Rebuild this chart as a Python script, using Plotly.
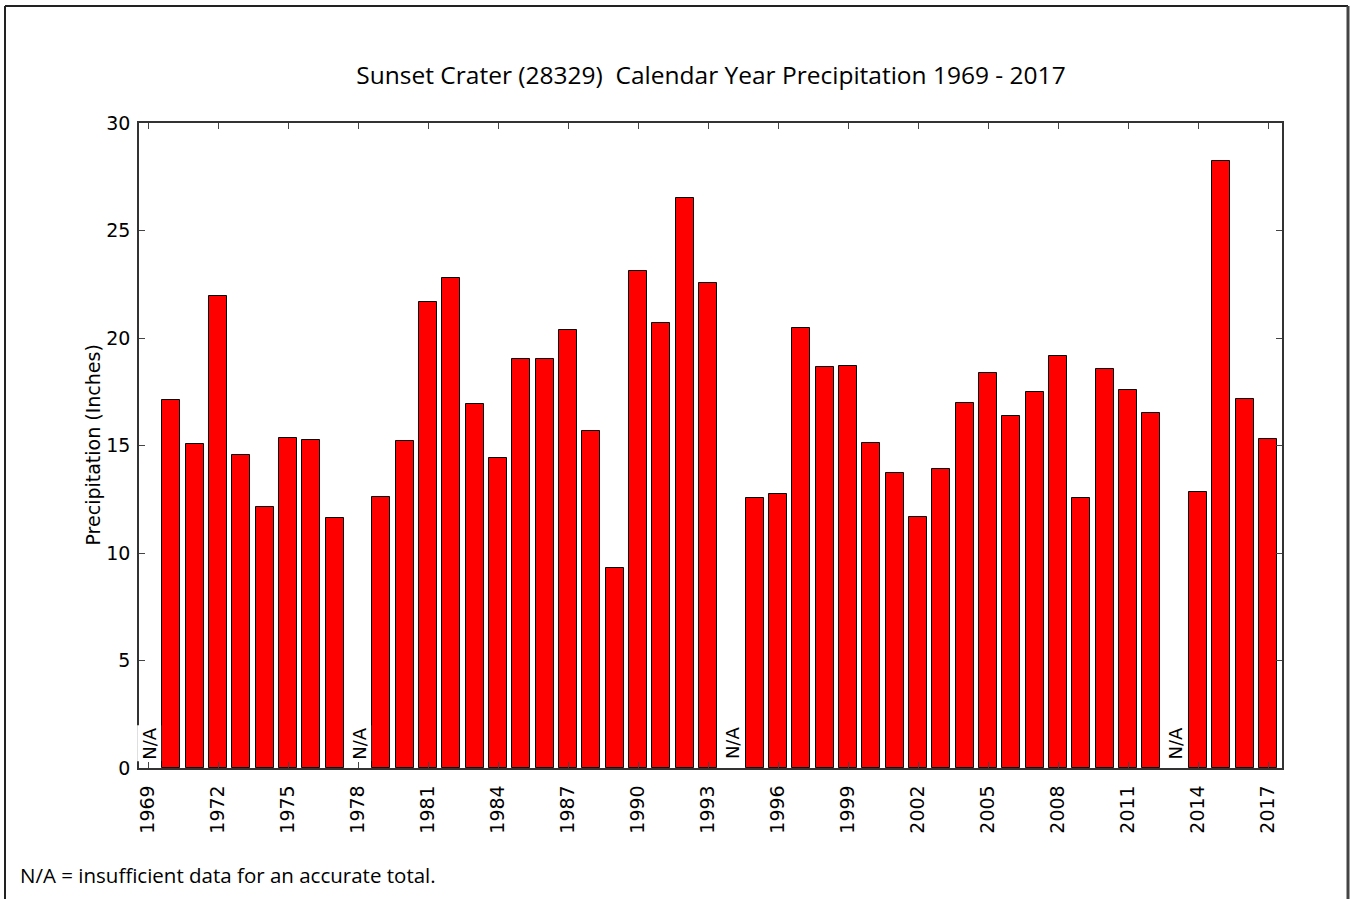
import plotly.graph_objects as go

years = list(range(1969, 2018))
precip = [None, 17.11, 15.07, 21.95, 14.56, 12.15, 15.35, 15.26, 11.63, None,
          12.61, 15.21, 21.67, 22.79, 16.93, 14.42, 19.02, 19.02, 20.37, 15.67,
          9.31, 23.11, 20.69, 26.50, 22.58, None, 12.56, 12.75, 20.46, 18.65,
          18.69, 15.12, 13.72, 11.68, 13.91, 16.98, 18.37, 16.37, 17.49, 19.16,
          12.56, 18.56, 17.58, 16.51, None, 12.84, 28.22, 17.16, 15.30]
na_years = [y for y, v in zip(years, precip) if v is None]
x_ticks = years[::3]
y_ticks = [0, 5, 10, 15, 20, 25, 30]

title = "Sunset Crater (28329)  Calendar Year Precipitation 1969 - 2017"
ylabel = "Precipitation (Inches)"
footnote = "N/A = insufficient data for an accurate total."

L, T, PW, PH = 139, 123, 1143, 645
W, H = 1351, 899

fig = go.Figure()
fig.add_trace(go.Bar(
    x=years, y=precip, width=0.77,
    marker=dict(color="#ff0000", line=dict(color="black", width=1)),
    showlegend=False,
))

for yr in na_years:
    fig.add_annotation(
        x=yr + 0.03, y=0.3, xref="x", yref="y", text="N/A", textangle=-90,
        showarrow=False, xanchor="center", yanchor="bottom",
        font=dict(family="DejaVu Sans", size=18, color="black"),
        bgcolor="white", borderpad=1,
    )

fig.add_annotation(
    x=(92 - L) / PW, y=0.5, xref="paper", yref="paper", text=ylabel,
    textangle=-90, showarrow=False, xanchor="center", yanchor="middle",
    font=dict(family="DejaVu Sans", size=19, color="black"),
)

fig.add_annotation(
    x=(18 - L) / PW, y=(768 - 875) / PH, xref="paper", yref="paper",
    text=footnote, showarrow=False, xanchor="left", yanchor="middle",
    font=dict(family="Open Sans", size=20.5, color="black"),
)

# outer frame
fx0, fx1 = (5 - L) / PW, (1348 - L) / PW
fy0, fy1 = (768 - 6) / PH, (768 - 920) / PH
fig.add_shape(type="line", xref="paper", yref="paper", x0=fx0, x1=fx0,
              y0=fy0, y1=fy1, line=dict(color="#222", width=2))
fig.add_shape(type="line", xref="paper", yref="paper", x0=fx0, x1=fx1,
              y0=fy0, y1=fy0, line=dict(color="#222", width=2))
fig.add_shape(type="line", xref="paper", yref="paper", x0=fx1, x1=fx1,
              y0=fy0, y1=fy1, line=dict(color="#444", width=3))

fig.update_layout(
    width=W, height=H,
    margin=dict(l=L, r=W - L - PW, t=T, b=H - T - PH),
    paper_bgcolor="white", plot_bgcolor="white",
    bargap=0,
    title=dict(text=title, x=711 / W, xanchor="center",
               y=1 - 75 / H, yanchor="middle",
               font=dict(family="Open Sans", size=24.5, color="black")),
    xaxis=dict(range=[1968.614, 2017.6], tickmode="array", tickvals=x_ticks,
               ticktext=[str(v) for v in x_ticks], tickangle=-90,
               ticks="inside", ticklen=6, tickcolor="#444", tickwidth=1,
               ticklabelstandoff=8,
               showline=True, linecolor="#333", linewidth=1.5, mirror="ticks",
               showgrid=False, zeroline=False,
               tickfont=dict(family="DejaVu Sans", size=19, color="black")),
    yaxis=dict(range=[0, 30], tickmode="array", tickvals=y_ticks,
               ticks="inside", ticklen=6, tickcolor="#444", tickwidth=1,
               ticklabelstandoff=3,
               showline=True, linecolor="#333", linewidth=1.5, mirror="ticks",
               showgrid=False, zeroline=False,
               tickfont=dict(family="DejaVu Sans", size=19, color="black")),
)

fig.write_html(
    "out.html",
    config={"displayModeBar": False},
    post_script="document.body.style.margin='0';document.body.style.overflow='hidden';",
)
